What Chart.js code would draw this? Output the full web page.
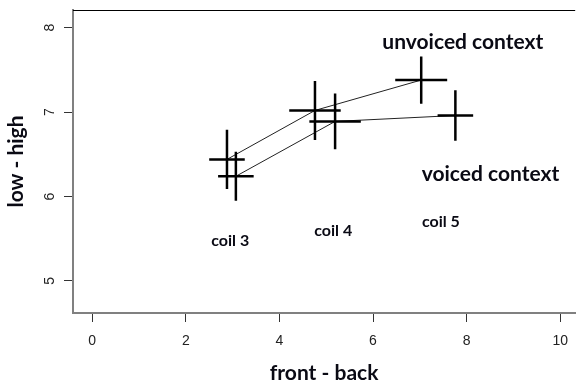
<!DOCTYPE html>
<html>
<head>
<meta charset="utf-8">
<script src="https://cdn.jsdelivr.net/npm/chart.js@4.4.1/dist/chart.umd.min.js"></script>
<style>
  html, body { margin: 0; padding: 0; background: #fff; }
  #box { width: 579px; height: 385px; }
</style>
</head>
<body>
<div id="box"><canvas id="grafico"></canvas></div>
<script>
// coil positions (front-back, low-high) with error half-widths
const coils = ['coil 3', 'coil 4', 'coil 5'];
const unvoicedX = [2.88, 4.76, 7.03];
const unvoicedY = [6.44, 7.02, 7.38];
const unvoicedXErr = [0.38, 0.55, 0.555];
const unvoicedYErr = [0.35, 0.35, 0.28];
const voicedX = [3.07, 5.19, 7.76];
const voicedY = [6.24, 6.89, 6.96];
const voicedXErr = [0.38, 0.55, 0.38];
const voicedYErr = [0.29, 0.33, 0.30];

const xTicks = [0, 2, 4, 6, 8, 10];
const yTicks = [5, 6, 7, 8];

// text labels placed in data units
const coilLabelX = [2.95, 5.15, 7.45];
const coilLabelY = [5.47, 5.59, 5.70];
const contextLabels = ['unvoiced context', 'voiced context'];
const contextLabelX = [7.92, 8.51];
const contextLabelY = [7.83, 6.27];

const fonteTexto = 'Lato, "Open Sans", sans-serif';

function pontos(xs, ys) {
    return xs.map((x, i) => ({ x: x, y: ys[i] }));
}

const cruzes = {
    id: 'cruzes',
    afterDatasetsDraw(chart) {
        const ctx = chart.ctx;
        const sx = chart.scales.x, sy = chart.scales.y;
        const series = [
            [unvoicedX, unvoicedY, unvoicedXErr, unvoicedYErr],
            [voicedX, voicedY, voicedXErr, voicedYErr]
        ];
        ctx.save();
        ctx.strokeStyle = '#000';
        ctx.lineWidth = 2.5;
        series.forEach(([xs, ys, xe, ye]) => {
            xs.forEach((x, i) => {
                ctx.beginPath();
                ctx.moveTo(sx.getPixelForValue(x - xe[i]), sy.getPixelForValue(ys[i]));
                ctx.lineTo(sx.getPixelForValue(x + xe[i]), sy.getPixelForValue(ys[i]));
                ctx.moveTo(sx.getPixelForValue(x), sy.getPixelForValue(ys[i] - ye[i]));
                ctx.lineTo(sx.getPixelForValue(x), sy.getPixelForValue(ys[i] + ye[i]));
                ctx.stroke();
            });
        });

        // top border of the box
        ctx.lineWidth = 1;
        ctx.beginPath();
        ctx.moveTo(chart.chartArea.left, chart.chartArea.top + 0.5);
        ctx.lineTo(chart.chartArea.right, chart.chartArea.top + 0.5);
        ctx.stroke();

        // text in the plot
        ctx.fillStyle = '#0a0a14';
        ctx.textAlign = 'center';
        ctx.textBaseline = 'middle';
        ctx.font = 'bold 16px ' + fonteTexto;
        coils.forEach((c, i) => {
            ctx.fillText(c, sx.getPixelForValue(coilLabelX[i]), sy.getPixelForValue(coilLabelY[i]));
        });
        ctx.font = 'bold 21px ' + fonteTexto;
        contextLabels.forEach((c, i) => {
            ctx.fillText(c, sx.getPixelForValue(contextLabelX[i]), sy.getPixelForValue(contextLabelY[i]));
        });

        // rotated y tick labels (R style)
        ctx.fillStyle = '#222';
        ctx.font = '14px "Liberation Sans", Arial, sans-serif';
        yTicks.forEach(v => {
            ctx.save();
            ctx.translate(50, sy.getPixelForValue(v));
            ctx.rotate(-Math.PI / 2);
            ctx.fillText(String(v), 0, 0);
            ctx.restore();
        });
        ctx.restore();
    }
};

new Chart(document.getElementById('grafico'), {
    type: 'scatter',
    data: {
        datasets: [
            {
                label: 'unvoiced context',
                data: pontos(unvoicedX, unvoicedY),
                showLine: true,
                borderColor: '#222',
                borderWidth: 1,
                pointRadius: 0
            },
            {
                label: 'voiced context',
                data: pontos(voicedX, voicedY),
                showLine: true,
                borderColor: '#222',
                borderWidth: 1,
                pointRadius: 0
            }
        ]
    },
    options: {
        responsive: true,
        maintainAspectRatio: false,
        animation: false,
        layout: { padding: { top: 10, right: 0, left: 0, bottom: 0 } },
        plugins: {
            legend: { display: false },
            tooltip: { enabled: false }
        },
        scales: {
            x: {
                type: 'linear',
                min: -0.41,
                max: 10.32,
                afterBuildTicks: s => { s.ticks = xTicks.map(v => ({ value: v })); },
                afterFit: s => { s.height = 72; },
                border: { display: true, color: '#808080', width: 2 },
                grid: { drawOnChartArea: false, drawTicks: true, tickLength: 9, color: '#333' },
                ticks: {
                    color: '#222',
                    padding: 11,
                    maxRotation: 0,
                    font: { family: '"Liberation Sans", Arial, sans-serif', size: 14 }
                },
                title: {
                    display: true,
                    text: 'front - back',
                    color: '#0a0a14',
                    font: { family: fonteTexto, size: 21, weight: 'bold' },
                    padding: { top: 0, bottom: -1 }
                }
            },
            y: {
                type: 'linear',
                min: 4.62,
                max: 8.21,
                afterBuildTicks: s => { s.ticks = yTicks.map(v => ({ value: v })); },
                afterFit: s => { s.width = 73; },
                border: { display: true, color: '#808080', width: 2 },
                grid: { drawOnChartArea: false, drawTicks: true, tickLength: 9, color: '#333' },
                ticks: { display: false },
                title: {
                    display: true,
                    text: 'low - high',
                    color: '#0a0a14',
                    font: { family: fonteTexto, size: 21, weight: 'bold' },
                    padding: { top: 4, bottom: 0 }
                }
            }
        }
    },
    plugins: [cruzes]
});
</script>
</body>
</html>
